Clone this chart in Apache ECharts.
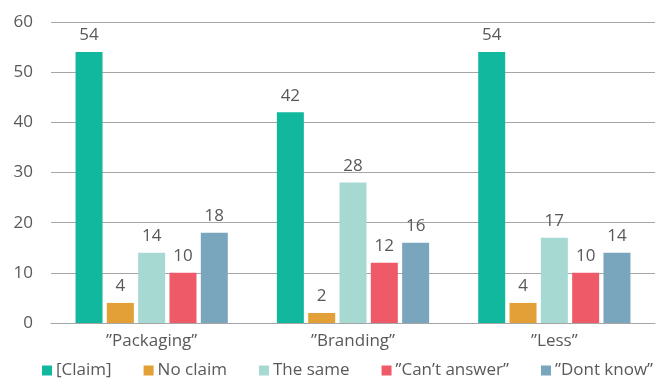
<!DOCTYPE html>
<html>
<head>
<meta charset="utf-8">
<script src="https://cdn.jsdelivr.net/npm/echarts@6/dist/echarts.min.js"></script>
<style>
  html, body { margin: 0; padding: 0; background: #fff; }
  #chart { width: 659px; height: 379px; }
</style>
</head>
<body>
<div id="chart"></div>
<script>
// Categories and series values
const categories = ['\u201DPackaging\u201D', '\u201DBranding\u201D', '\u201DLess\u201D'];
const seriesNames = ['[Claim]', 'No claim', 'The same', '\u201DCan\u2019t answer\u201D', '\u201DDont know\u201D'];
const claim = [54, 42, 54];
const noClaim = [4, 2, 4];
const theSame = [14, 28, 17];
const cantAnswer = [10, 12, 10];
const dontKnow = [18, 16, 14];
const yTicks = [0, 10, 20, 30, 40, 50, 60];

const colors = ['#12b89e', '#e3a036', '#a6d9d2', '#ef5a69', '#79a6bc'];
const values = [claim, noClaim, theSame, cantAnswer, dontKnow];
const textColor = '#595959';
const fontFamily = '"Open Sans", "Noto Sans", sans-serif';

const chart = echarts.init(document.getElementById('chart'), null, { renderer: 'canvas' });

chart.setOption({
  animation: false,
  textStyle: { fontFamily: fontFamily },
  grid: { left: 51, right: 4, top: 22, bottom: 56, containLabel: false },
  legend: {
    left: 37, top: 357,
    itemWidth: 10, itemHeight: 10, itemGap: 32,
    icon: 'rect',
    textStyle: { color: textColor, fontSize: 17, fontFamily: fontFamily, padding: [0, 0, 0, -1] },
    data: seriesNames
  },
  xAxis: {
    type: 'category',
    data: categories,
    axisLine: { show: true, lineStyle: { color: '#a6a6a6', width: 1 } },
    axisTick: { show: false },
    axisLabel: { color: textColor, fontSize: 17, margin: 10 }
  },
  yAxis: {
    type: 'value',
    min: yTicks[0], max: yTicks[yTicks.length - 1], interval: 10,
    axisLine: { show: false },
    axisTick: { show: false },
    axisLabel: { color: textColor, fontSize: 17, margin: 18 },
    splitLine: { lineStyle: { color: '#a6a6a6', width: 1 } }
  },
  series: seriesNames.map((name, i) => ({
    name: name,
    type: 'bar',
    data: values[i],
    barWidth: 27,
    barGap: '16%',
    itemStyle: { color: colors[i] },
    label: { show: true, position: 'top', distance: 8, color: textColor, fontSize: 17 }
  }))
});
</script>
</body>
</html>
